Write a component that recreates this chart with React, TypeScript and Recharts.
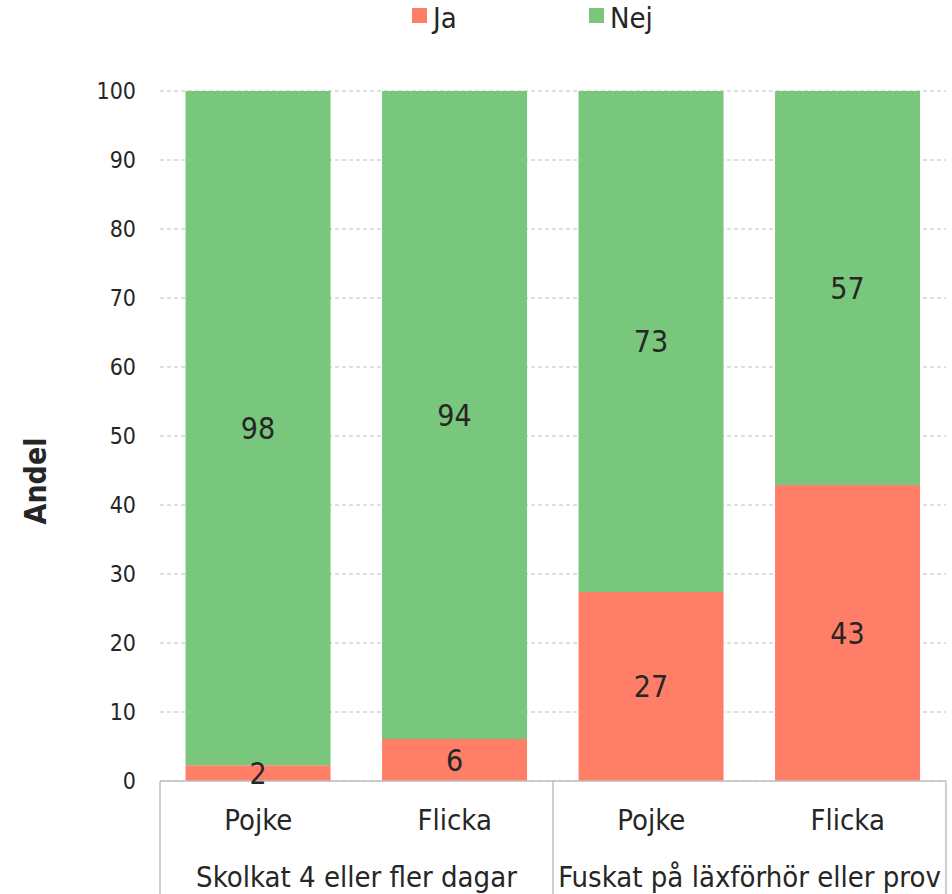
import React from "react";
import {
	BarChart,
	Bar,
	XAxis,
	YAxis,
	CartesianGrid,
	Legend,
	LabelList,
	Label,
} from "recharts";

const SEX = ["Pojke", "Flicka", "Pojke", "Flicka"];
const GROUPS = [
	"Skolkat 4 eller fler dagar",
	"Skolkat 4 eller fler dagar",
	"Fuskat på läxförhör eller prov",
	"Fuskat på läxförhör eller prov",
];
const JA = [2.3, 6.1, 27.4, 42.9];
const NEJ = [97.7, 93.9, 72.6, 57.1];
const Y_TICKS = [0, 10, 20, 30, 40, 50, 60, 70, 80, 90, 100];

const W = 952;
const H = 894;
const LEGEND_H = 36;
const MARGIN = { top: 91 - LEGEND_H, right: 6, bottom: 0, left: 0 };
const Y_W = 160;
const X1_H = 60;
const X2_H = 53;
const FONT = "'DejaVu Sans Condensed', 'DejaVu Sans', sans-serif";
const TXT = "#262626";
const AXIS = "#bfbfbf";
const RED = "#ff7e68";
const GREEN = "#78c77c";

const data = SEX.map((s, i) => ({
	sex: s,
	group: GROUPS[i],
	ja: JA[i],
	nej: NEJ[i],
}));

const band = (W - MARGIN.left - MARGIN.right - Y_W) / SEX.length;

function SexTick(props: any) {
	const { x, y, payload, index } = props;
	const top = y - 8; // tick y includes tickSize/margin
	return (
		<g>
			{index % 2 === 0 && (
				<line x1={x - band / 2} x2={x - band / 2} y1={top} y2={top + X1_H + X2_H} stroke={AXIS} strokeWidth={1.5} />
			)}
			{index === SEX.length - 1 && (
				<line x1={x + band / 2} x2={x + band / 2} y1={top} y2={top + X1_H + X2_H} stroke={AXIS} strokeWidth={1.5} />
			)}
			<text x={x} y={top + 49} textAnchor="middle" fill={TXT} fontSize={29} fontFamily={FONT}>
				{payload.value}
			</text>
		</g>
	);
}

function GroupTick(props: any) {
	const { x, y, payload } = props;
	return (
		<text x={x} y={y + 38} textAnchor="middle" fill={TXT} fontSize={29} fontFamily={FONT}>
			{payload.value}
		</text>
	);
}

function LegendBox() {
	const items = [
		{ name: "Ja", color: RED, left: 412 },
		{ name: "Nej", color: GREEN, left: 589 },
	];
	return (
		<div style={{ position: "relative", height: LEGEND_H, width: W, overflow: "visible" }}>
			{items.map((it) => (
				<div key={it.name} style={{ position: "absolute", left: it.left, top: 0 }}>
					<span style={{ position: "absolute", left: 0, top: 8, width: 15, height: 15, background: it.color }} />
					<span style={{ position: "absolute", left: 21, top: 3, fontFamily: FONT, fontSize: 29, lineHeight: "30px", color: TXT, whiteSpace: "nowrap" }}>{it.name}</span>
				</div>
			))}
		</div>
	);
}

export default function App() {
	return (
		<div style={{ position: "absolute", left: 0, top: 0, width: W, height: H, background: "#fff" }}>
			<BarChart width={W} height={H} data={data} margin={MARGIN} barCategoryGap="13%">
				<Legend verticalAlign="top" content={() => <LegendBox />} wrapperStyle={{ top: 0, left: 0 }} />
				<CartesianGrid vertical={false} stroke={AXIS} strokeDasharray="4 3" />
				<YAxis
					width={Y_W}
					domain={[0, 100]}
					ticks={Y_TICKS}
					interval={0}
					axisLine={false}
					tickLine={false}
					tickSize={0}
					tickMargin={24}
					tick={{ fill: TXT, fontSize: 23, fontFamily: FONT }}
				>
					<Label
						content={(p: any) => {
							const vb = p.viewBox;
							const cy = vb.y + vb.height / 2 + 45;
							return (
								<text x={35} y={cy} transform={`rotate(-90 35 ${cy})`} textAnchor="middle" dominantBaseline="central" fill={TXT} fontSize={30} fontWeight="bold" fontFamily={FONT}>
									Andel
								</text>
							);
						}}
					/>
				</YAxis>
				<XAxis
					dataKey="sex"
					height={X1_H}
					interval={0}
					axisLine={{ stroke: AXIS, strokeWidth: 1.5 }}
					tickLine={false}
					tick={<SexTick />}
				/>
				<XAxis
					xAxisId="grp"
					dataKey="group"
					allowDuplicatedCategory={false}
					height={X2_H}
					interval={0}
					axisLine={false}
					tickLine={false}
					tick={<GroupTick />}
				/>
				<Bar dataKey="ja" name="Ja" stackId="a" fill={RED} isAnimationActive={false}>
					<LabelList dataKey="ja" position="center" formatter={(v: any) => Math.round(v)} fill={TXT} fontSize={30} fontFamily={FONT} />
				</Bar>
				<Bar dataKey="nej" name="Nej" stackId="a" fill={GREEN} isAnimationActive={false}>
					<LabelList dataKey="nej" position="center" formatter={(v: any) => Math.round(v)} fill={TXT} fontSize={30} fontFamily={FONT} />
				</Bar>
			</BarChart>
		</div>
	);
}
